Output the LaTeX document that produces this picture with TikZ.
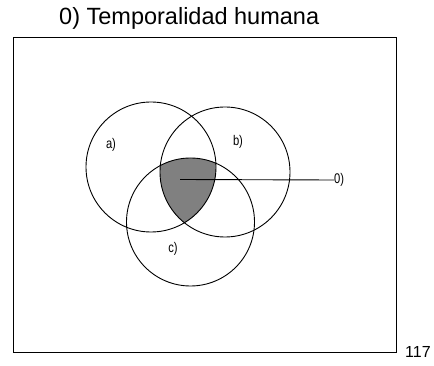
\documentclass[tikz,border=0pt]{standalone}
\usepackage{fontspec}
\setmainfont{Liberation Sans}
\begin{document}
\begin{tikzpicture}[x=1pt,y=-1pt,
  venn/.style={circle,draw=black,line width=0.9pt,minimum size=130pt,inner sep=0pt},
  lbl/.style={font=\fontsize{14}{14}\selectfont,inner sep=0pt,xscale=0.8},
  frame/.style={draw=black,line width=1.1pt}]
\useasboundingbox (0,0) rectangle (434,366);
\fill[white] (0,0) rectangle (434,366);
% title
\node[font=\fontsize{23.5}{24}\selectfont,inner sep=0pt,anchor=base west] (title) at (59,24.5) {0) Temporalidad humana};
% frame
\node[frame,anchor=north west,minimum width=383.5pt,minimum height=315pt,inner sep=0pt] (box) at (12.5,37) {};
% shaded intersection
\begin{scope}
  \clip (151,167) circle (65pt);
  \clip (225,172) circle (65pt);
  \fill[black!50] (190.5,222) circle (64pt);
\end{scope}
% circles
\node[venn] (A) at (151,167) {};
\node[venn] (B) at (225,172) {};
\node[venn,minimum size=128pt] (C) at (190.5,222) {};
% labels
\node[lbl] (la) at (111,145) {a)};
\node[lbl] (lb) at (238,142) {b)};
\node[lbl] (lc) at (173,249) {c)};
\node[lbl,anchor=west] (l0) at (334,180) {0)};
\coordinate (p0) at (180,179.5);
\draw[line width=0.9pt] (p0) -- (l0.west);
% page number
\node[font=\fontsize{16}{16}\selectfont,inner sep=0pt,anchor=base west] (pg) at (405,357) {117};
\end{tikzpicture}
\end{document}
